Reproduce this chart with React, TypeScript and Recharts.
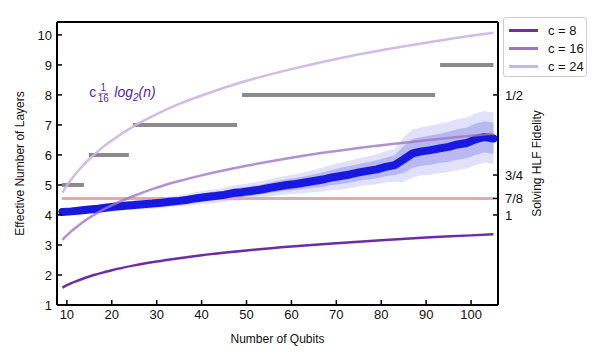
import React from 'react';
import {
    ComposedChart, Line, Area, XAxis, YAxis, ReferenceLine, ReferenceDot, Label
} from 'recharts';

// mean effective layers (blue) sampled every 2 qubits
const qubits = [9, 11, 13, 15, 17, 19, 21, 23, 25, 27, 29, 31, 33, 35, 37, 39, 41, 43, 45, 47, 49, 51, 53, 55, 57, 59, 61, 63, 65, 67, 69, 71, 73, 75, 77, 79, 81, 83, 85, 87, 89, 91, 93, 95, 97, 99, 101, 103, 105];
const meanLayers = [4.10, 4.12, 4.15, 4.18, 4.21, 4.25, 4.28, 4.31, 4.33, 4.36, 4.38, 4.41, 4.44, 4.47, 4.51, 4.56, 4.60, 4.63, 4.67, 4.73, 4.76, 4.80, 4.84, 4.90, 4.95, 5.00, 5.03, 5.08, 5.13, 5.18, 5.25, 5.30, 5.35, 5.42, 5.47, 5.52, 5.60, 5.66, 5.85, 6.05, 6.12, 6.16, 6.22, 6.27, 6.35, 6.40, 6.52, 6.60, 6.55];
const outerSpread = [0.12, 0.12, 0.13, 0.13, 0.14, 0.14, 0.15, 0.15, 0.16, 0.16, 0.17, 0.17, 0.18, 0.19, 0.20, 0.21, 0.22, 0.23, 0.24, 0.25, 0.26, 0.27, 0.28, 0.29, 0.30, 0.31, 0.33, 0.35, 0.37, 0.40, 0.42, 0.45, 0.46, 0.47, 0.48, 0.50, 0.52, 0.55, 0.75, 0.80, 0.80, 0.82, 0.82, 0.84, 0.85, 0.85, 0.86, 0.86, 0.86];
const midSpread = [0.07, 0.07, 0.08, 0.08, 0.08, 0.08, 0.09, 0.09, 0.10, 0.10, 0.10, 0.10, 0.11, 0.11, 0.12, 0.13, 0.13, 0.14, 0.14, 0.15, 0.16, 0.16, 0.17, 0.17, 0.18, 0.19, 0.20, 0.21, 0.22, 0.24, 0.25, 0.27, 0.28, 0.28, 0.29, 0.30, 0.31, 0.33, 0.45, 0.48, 0.48, 0.49, 0.49, 0.50, 0.51, 0.51, 0.52, 0.52, 0.52];

// c/16 * log2(n) reference curves
const curveQubits = [9, 10, 11, 12, 14, 16, 18, 20, 25, 30, 35, 40, 50, 60, 70, 80, 90, 100, 105];
const c8Layers = [1.58, 1.66, 1.73, 1.79, 1.90, 2.00, 2.08, 2.16, 2.32, 2.45, 2.56, 2.66, 2.82, 2.95, 3.06, 3.16, 3.25, 3.32, 3.36];
const c16Layers = [3.17, 3.32, 3.46, 3.58, 3.81, 4.00, 4.17, 4.32, 4.64, 4.91, 5.13, 5.32, 5.64, 5.91, 6.13, 6.32, 6.49, 6.64, 6.71];
const c24Layers = [4.75, 4.98, 5.19, 5.38, 5.71, 6.00, 6.26, 6.48, 6.97, 7.36, 7.70, 7.98, 8.47, 8.86, 9.20, 9.49, 9.74, 9.97, 10.07];

// gray step segments
const stepLevels = [5, 6, 7, 8, 9];
const stepStart = [8.9, 14.9, 24.7, 49, 93.1];
const stepEnd = [13.8, 23.8, 47.9, 92, 105];

// pink fidelity line
const fidelityLevel = 4.55;
const fidelityRange = [8.9, 105];

const xTicks = [10, 20, 30, 40, 50, 60, 70, 80, 90, 100];
const yTicks = [1, 2, 3, 4, 5, 6, 7, 8, 9, 10];
const fidelityTicks = [4.0, 4.55, 5.33, 8.0];
const fidelityLabels = ['1', '7/8', '3/4', '1/2'];

const legendNames = ['c = 8', 'c = 16', 'c = 24'];
const legendColors = ['#6b2ea3', '#9d75c6', '#cbb5e2'];

const bandRows = qubits.map((q, i) => ({
    q,
    mean: meanLayers[i],
    outer: [meanLayers[i] - outerSpread[i], meanLayers[i] + outerSpread[i]],
    mid: [meanLayers[i] - midSpread[i], meanLayers[i] + midSpread[i]],
}));
const curveRows = curveQubits.map((q, i) => ({ q, c8: c8Layers[i], c16: c16Layers[i], c24: c24Layers[i] }));

const FONT = '"Liberation Sans", Arial, Helvetica, sans-serif';
const Y_DOMAIN: [number, number] = [1, 10.43];
const X_DOMAIN: [number, number] = [7.8, 106];
const axisLine = { stroke: '#000', strokeWidth: 2 };
const tickLine = { stroke: '#000', strokeWidth: 1.5 };
const tickStyle = { fill: '#111', fontSize: 13, fontFamily: FONT };

const Annotation = (props: any) => {
    const { cx, cy } = props;
    const col = '#5a1d9a';
    return (
        <g fill={col} fontFamily={FONT}>
            <text x={cx} y={cy + 5} fontSize={14}>c</text>
            <text x={cx + 14} y={cy - 1} fontSize={10} textAnchor="middle">1</text>
            <line x1={cx + 9} x2={cx + 19} y1={cy + 1.5} y2={cy + 1.5} stroke={col} strokeWidth={0.6} />
            <text x={cx + 14} y={cy + 10} fontSize={10} textAnchor="middle">16</text>
            <text x={cx + 25} y={cy + 5} fontSize={14} fontStyle="italic">
                log<tspan dy={4} fontSize={10}>2</tspan><tspan dy={-4}>(n)</tspan>
            </text>
        </g>
    );
};

const VLabel = (text: string, dx: number) => (props: any) => {
    const { viewBox } = props;
    const x = viewBox.x + dx;
    const y = viewBox.y + viewBox.height / 2;
    return (
        <text x={x} y={y} transform={`rotate(-90, ${x}, ${y})`} textAnchor="middle" dominantBaseline="central"
            fontSize={12} fontFamily={FONT} fill="#111">{text}</text>
    );
};

const App: React.FC = () => {
    return (
        <div style={{ position: 'absolute', left: 0, top: 0, width: 614, height: 360, background: '#fff' }}>
            <ComposedChart width={614} height={360} data={bandRows}
                margin={{ top: 21, right: 38, bottom: 15, left: 0 }}>
                <XAxis dataKey="q" type="number" domain={X_DOMAIN} ticks={xTicks} allowDataOverflow
                    axisLine={axisLine} tickLine={tickLine} tickSize={-5} tickMargin={10} tick={tickStyle} height={40}>
                    <Label value="Number of Qubits" position="insideBottom" offset={2}
                        style={{ fontSize: 12, fontFamily: FONT, fill: '#111' }} />
                </XAxis>
                <XAxis xAxisId="top" orientation="top" type="number" domain={X_DOMAIN} ticks={xTicks} allowDataOverflow
                    axisLine={axisLine} tickLine={tickLine} tickSize={-5} tick={false} height={1} />
                <YAxis type="number" domain={Y_DOMAIN} ticks={yTicks} allowDataOverflow width={57}
                    axisLine={axisLine} tickLine={tickLine} tickSize={-5} tickMargin={10} tick={tickStyle}
                    label={{ content: VLabel('Effective Number of Layers', 20) }} />
                <YAxis yAxisId="right" orientation="right" type="number" domain={Y_DOMAIN} ticks={fidelityTicks}
                    interval={0} allowDataOverflow width={78} axisLine={axisLine} tickLine={tickLine} tickSize={-5}
                    tickMargin={12} tick={tickStyle}
                    tickFormatter={(v: number) => fidelityLabels[fidelityTicks.indexOf(v)]}
                    label={{ content: VLabel('Solving HLF Fidelity', 39) }} />

                <ReferenceLine segment={[{ x: fidelityRange[0], y: fidelityLevel }, { x: fidelityRange[1], y: fidelityLevel }]}
                    stroke="#e2abab" strokeWidth={3} />
                {stepLevels.map((lv, i) => (
                    <ReferenceLine key={`step-${lv}`} segment={[{ x: stepStart[i], y: lv }, { x: stepEnd[i], y: lv }]}
                        stroke="#8a8a8a" strokeWidth={4} />
                ))}

                <Area dataKey="outer" type="linear" fill="#c9c9f7" fillOpacity={0.55} stroke="none" isAnimationActive={false} />
                <Area dataKey="mid" type="linear" fill="#9d9dee" fillOpacity={0.6} stroke="none" isAnimationActive={false} />
                <Line dataKey="mean" type="linear" stroke="#1818e0" strokeWidth={8} strokeLinejoin="round" strokeLinecap="round"
                    dot={false} isAnimationActive={false} />

                <Line data={curveRows} dataKey="c24" type="monotone" stroke={legendColors[2]} strokeWidth={2.5} strokeOpacity={0.9} dot={false} isAnimationActive={false} />
                <Line data={curveRows} dataKey="c16" type="monotone" stroke={legendColors[1]} strokeWidth={2.5} strokeOpacity={0.8} dot={false} isAnimationActive={false} />
                <Line data={curveRows} dataKey="c8" type="monotone" stroke={legendColors[0]} strokeWidth={2.5} dot={false} isAnimationActive={false} />

                <ReferenceDot x={15} y={8.1} r={0} shape={Annotation} />
            </ComposedChart>

            <div style={{
                position: 'absolute', left: 503, top: 17, width: 84, height: 60, border: '1px solid #ccc',
                borderRadius: 3, background: '#fff', fontFamily: FONT, fontSize: 13, color: '#111', boxSizing: 'border-box',
                paddingTop: 3
            }}>
                {legendNames.map((n, i) => (
                    <div key={n} style={{ display: 'flex', alignItems: 'center', height: 18 }}>
                        <span style={{ display: 'inline-block', width: 29, height: 3, background: legendColors[i], marginLeft: 5, marginRight: 10 }} />
                        <span>{n}</span>
                    </div>
                ))}
            </div>
        </div>
    );
};

export default App;
